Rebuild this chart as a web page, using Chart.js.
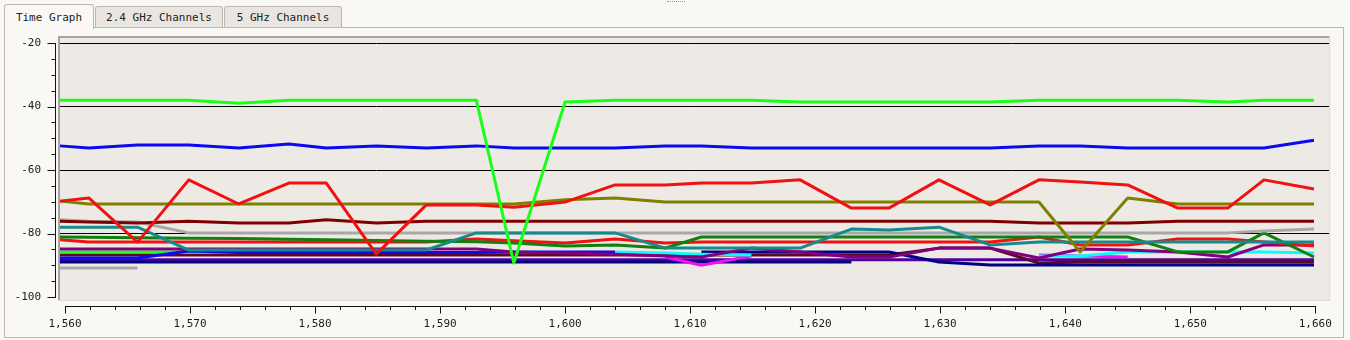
<!DOCTYPE html>
<html>
<head>
<meta charset="utf-8">
<title>Time Graph</title>
<script src="https://cdn.jsdelivr.net/npm/chart.js@4/dist/chart.umd.min.js"></script>
<style>
  html, body { margin: 0; padding: 0; }
  body {
    width: 1350px; height: 340px; position: relative; overflow: hidden;
    background: #faf8f5;
    font-family: "DejaVu Sans Mono", monospace; font-size: 11px; color: #222;
  }
  .panel {
    position: absolute; left: 4px; top: 27px; width: 1338px; height: 309px;
    border: 1px solid #bbb8b3; box-sizing: content-box;
  }
  .tab {
    position: absolute; top: 6px; height: 20px; line-height: 21px;
    border: 1px solid #bbb8b3; border-bottom: none; border-radius: 3px 3px 0 0;
    background: #e9e6e1; text-align: center; box-sizing: content-box;
  }
  .tab.active { top: 4px; height: 24px; line-height: 25px; background: #faf8f5; z-index: 2; }
  .grip { position: absolute; left: 667px; top: 1px; width: 18px; border-top: 1px dotted #999; }
  #chart { position: absolute; left: 0; top: 0; z-index: 3; }
</style>
</head>
<body>
<div class="grip"></div>
<div class="panel"></div>
<div class="tab active" style="left:4px;width:88px;">Time Graph</div>
<div class="tab" style="left:95px;width:126px;">2.4 GHz Channels</div>
<div class="tab" style="left:224px;width:116px;">5 GHz Channels</div>
<canvas id="chart" width="1350" height="340"></canvas>
<script>
"use strict";

// sample times (x values)
const times = [1559.6, 1561.9, 1565.8, 1569.9, 1573.9, 1577.9, 1580.9, 1584.9, 1588.9, 1592.9,
  1595.9, 1600.0, 1604.0, 1608.0, 1610.9, 1614.9, 1618.8, 1622.9, 1625.9, 1629.9,
  1634.0, 1637.9, 1641.2, 1645.0, 1649.0, 1653.0, 1655.9, 1659.9];

const xTicks = [];
for (let v = 1560; v <= 1660; v += 2) xTicks.push(v);
const yTicks = [];
for (let v = -100; v <= -20; v += 5) yTicks.push(v);

const limeVals = [-38, -38, -38, -38, -39, -38, -38, -38, -38, -38, -89.3, -38.6, -38, -38,
  -38, -38, -38.6, -38.6, -38.6, -38.6, -38.6, -38, -38, -38, -38, -38.6, -38, -38];
const blueVals = [-52.4, -53.1, -52.1, -52.1, -53.1, -51.8, -53.1, -52.4, -53.1, -52.4, -53.1, -53.1, -53.1, -52.4,
  -52.4, -53.1, -53.1, -53.1, -53.1, -53.1, -53.1, -52.4, -52.4, -53.1, -53.1, -53.1, -53.1, -50.6];
const redVals = [-69.8, -68.8, -82.7, -63.1, -70.7, -64.1, -64.1, -86.5, -71, -71, -71.7, -70.1, -64.7, -64.7,
  -64.1, -64.1, -63.1, -72, -72, -63.1, -71, -63.1, -63.8, -64.7, -72, -72, -63.1, -66];
const oliveVals = [-69.8, -70.7, -70.7, -70.7, -70.7, -70.7, -70.7, -70.7, -70.7, -70.7, -70.7, -69.4, -68.8, -70.1,
  -70.1, -70.1, -70.1, -70.1, -70.1, -70.1, -70.1, -70.1, -85.8, -68.8, -70.7, -70.7, -70.7, -70.7];
const maroonVals = [-76.1, -76.4, -76.7, -76.1, -76.7, -76.7, -75.7, -76.7, -76.1, -76.1, -76.1, -76.1, -76.1, -76.1,
  -76.1, -76.1, -76.1, -76.1, -76.1, -76.1, -76.1, -76.7, -76.7, -76.7, -76.1, -76.1, -76.1, -76.1];
const grayVals = [-75.7, -76.1, -76.4, -79.8, -79.8, -79.8, -79.8, -79.8, -79.8, -79.8, -79.8, -79.8, -79.8, -79.8,
  -79.8, -79.8, -79.8, -79.8, -79.8, -79.8, -79.8, -79.8, -79.8, -79.8, -79.8, -79.8, -79.2, -78.6];
const grayShortVals = [-90.9, -90.9, -90.9, null, null, null, null, null, null, null, null, null, null, null,
  null, null, null, null, null, null, null, null, null, null, null, null, null, null];
const tealVals = [-78, -78, -78, -85.2, -85.2, -85.2, -85.2, -85.2, -85.2, -79.8, -79.8, -79.8, -79.8, -84.6,
  -84.6, -84.6, -84.6, -78.6, -78.9, -78, -83.6, -82.7, -82.7, -82.7, -82.7, -82.7, -82.7, -82.7];
const darkGreenVals = [-81.1, -81.2, -81.3, -81.5, -81.6, -81.8, -82, -82.2, -82.4, -82.6, -83, -83.9, -83.6, -84.6,
  -81.1, -81.1, -81.1, -81.1, -81.1, -81.1, -81.1, -81.1, -81.1, -81.1, -85.8, -85.8, -79.8, -87.4];
const red2Vals = [-82, -82.7, -82.7, -82.7, -82.7, -82.7, -82.7, -82.7, -82.7, -81.7, -82.3, -83, -81.7, -83,
  -82.7, -82.7, -82.7, -82.7, -82.7, -82.7, -82.7, -81.1, -83.6, -83.6, -81.7, -81.7, -82.7, -83.9];
const purpleVals = [-84.9, -84.9, -84.9, -84.9, -84.9, -84.9, -84.9, -84.9, -84.9, -84.9, -85.8, -86.1, -86.5, -87.1,
  -87.4, -84.6, -85.8, -87.4, -87.4, -84.6, -84.6, -87.7, -84.9, -85.2, -85.8, -87.4, -83.6, -83.6];
const lime2Vals = [-85.8, -85.8, -85.8, -85.8, -85.8, -85.8, -85.8, null, null, null, null, null, null, null,
  null, null, null, null, null, null, null, null, null, null, null, null, null, null];
const darkMaroonVals = [-86.8, -86.8, -86.8, -86.8, -86.8, -86.8, -86.8, -86.8, -86.8, -86.8, -86.8, -86.8, -86.8, -86.8,
  -86.8, -86.8, -86.8, -86.8, -86.8, -84.6, -84.6, -89.3, -89, -89, -89, -89, -89, -89];
const blue2Vals = [-87.7, -87.7, -87.7, -85.5, -86, -86, -86, -86, -86, -86, -85.8, -85.8, -85.8, null,
  null, null, null, null, null, null, null, null, null, null, null, null, null, null];
const cyanVals = [null, null, null, null, null, null, null, null, null, null, null, null, -85.8, -86.1,
  -86.5, -86.8, null, null, null, null, null, -87.1, -87.1, -85.8, -85.8, -85.8, -85.8, -86.1];
const magentaVals = [null, null, null, null, null, null, null, null, null, null, null, null, null, -87.4,
  -90, -87.1, null, null, null, null, null, -86.8, -87.1, -87.4, null, null, null, null];
const navyVals = [-89, -89, -89, -89, -89, -89, -89, -89, -89, -89, -89, -89, -89, -89,
  -89, -89, -89, -89, null, null, null, null, null, null, null, null, null, null];
const navy2Vals = [null, null, null, null, null, null, null, null, null, null, null, null, null, null,
  -85.8, -85.8, -85.8, -85.8, -85.8, -89, -89.9, -89.9, -89.9, -89.9, -89.9, -89.9, -89.9, -89.9];
const indigoVals = [-88.3, -88.3, -88.3, -88.3, -88.3, -88.3, -88.3, -88.3, -88.3, -88.3, -88.3, -88.3, -88.3, -88.3,
  -88.3, -88.3, -88.3, -88.3, -88.3, -88.3, -88.3, -88.3, -88.3, -88.3, -88.3, -88.3, -88.3, -88.3];

const X_MIN = 1559.52, X_MAX = 1661.12;
const Y_MIN = -100.94, Y_MAX = -18.11;
const FONT = { family: "'DejaVu Sans Mono', monospace", size: 11 };

function series(label, vals, color) {
  return {
    label: label,
    data: times.map((t, i) => ({ x: t, y: vals[i] == null ? null : vals[i] })),
    borderColor: color,
    backgroundColor: color,
    borderWidth: 3,
    pointRadius: 0,
    fill: false,
    tension: 0,
    spanGaps: false,
    borderJoinStyle: "round",
  };
}

function thousands(v) {
  return String(v).replace(/\B(?=(\d{3})+(?!\d))/g, ",");
}

// plot background, frame and detached axes
const framePlugin = {
  id: "frame",
  beforeDraw(chart) {
    const a = chart.chartArea;
    const ctx = chart.ctx;
    ctx.save();
    ctx.fillStyle = "#edeae5";
    ctx.fillRect(a.left, a.top, a.right - a.left, a.bottom - a.top);
    ctx.restore();
  },
  afterDraw(chart) {
    const a = chart.chartArea;
    const ctx = chart.ctx;
    const xs = chart.scales.x;
    const ys = chart.scales.y;
    ctx.save();
    ctx.fillStyle = "#a6a3a0";
    ctx.fillRect(a.left - 1, a.top - 1, 2, a.bottom - a.top + 1);
    ctx.fillRect(a.left - 1, a.top - 1, a.right - a.left + 1, 2);
    ctx.fillStyle = "#dcd9d4";
    ctx.fillRect(a.right, a.top - 1, 1, a.bottom - a.top + 2);
    ctx.fillRect(a.left - 1, a.bottom, a.right - a.left + 2, 1);

    ctx.strokeStyle = "#111";
    ctx.lineWidth = 1;
    ctx.beginPath();
    // x axis
    const ax = a.bottom + 6.5;
    ctx.moveTo(Math.round(xs.getPixelForValue(1560)), ax);
    ctx.lineTo(Math.round(xs.getPixelForValue(1660)) + 1, ax);
    xTicks.forEach((v) => {
      const px = Math.round(xs.getPixelForValue(v)) + 0.5;
      ctx.moveTo(px, ax);
      ctx.lineTo(px, ax + (v % 10 === 0 ? 7 : 3.5));
    });
    // y axis
    const ay = a.left - 3.5;
    ctx.moveTo(ay, Math.round(ys.getPixelForValue(-20)));
    ctx.lineTo(ay, Math.round(ys.getPixelForValue(-100)) + 1);
    yTicks.forEach((v) => {
      const py = Math.round(ys.getPixelForValue(v)) + 0.5;
      ctx.moveTo(ay, py);
      ctx.lineTo(ay - (v % 20 === 0 ? 8 : 4), py);
    });
    ctx.stroke();
    ctx.restore();
  },
};

new Chart(document.getElementById("chart").getContext("2d"), {
  type: "line",
  data: {
    datasets: [
      series("Lime", limeVals, "#1aff1a"),
      series("Blue", blueVals, "#0a0af0"),
      series("Red", redVals, "#f21010"),
      series("Olive", oliveVals, "#808000"),
      series("Maroon", maroonVals, "#800000"),
      series("Teal", tealVals, "#178b8b"),
      series("Gray", grayVals, "#a8a8a8"),
      series("Gray 2", grayShortVals, "#a8a8a8"),
      series("Green", darkGreenVals, "#108010"),
      series("Red 2", red2Vals, "#f21010"),
      series("Purple", purpleVals, "#800080"),
      series("Cyan", cyanVals, "#10f8f8"),
      series("Magenta", magentaVals, "#f010f0"),
      series("Navy 2", navy2Vals, "#000088"),
      series("Blue 2", blue2Vals, "#0a0af0"),
      series("Lime 2", lime2Vals, "#1aff1a"),
      series("Dark maroon", darkMaroonVals, "#5a0a28"),
      series("Navy", navyVals, "#000080"),
      series("Indigo", indigoVals, "#5000a0"),
    ],
  },
  options: {
    responsive: false,
    animation: false,
    events: [],
    layout: { padding: { left: 0, top: 37, right: 18, bottom: 0 } },
    plugins: { legend: { display: false }, tooltip: { enabled: false } },
    scales: {
      x: {
        type: "linear",
        min: X_MIN,
        max: X_MAX,
        afterBuildTicks: (axis) => { axis.ticks = xTicks.map((v) => ({ value: v })); },
        afterFit: (axis) => { axis.height = 40; },
        grid: { display: false, drawTicks: false },
        border: { display: false },
        ticks: {
          autoSkip: false,
          maxRotation: 0,
          padding: 18,
          color: "#1a1a1a",
          font: FONT,
          callback: (v) => (v % 10 === 0 ? thousands(v) : ""),
        },
      },
      y: {
        type: "linear",
        min: Y_MIN,
        max: Y_MAX,
        afterBuildTicks: (axis) => { axis.ticks = yTicks.map((v) => ({ value: v })); },
        afterFit: (axis) => { axis.width = 59; },
        grid: {
          drawTicks: false,
          lineWidth: 1,
          color: (c) => (c.tick && c.tick.value % 20 === 0 && c.tick.value > -100 ? "#000" : "rgba(0,0,0,0)"),
        },
        border: { display: false },
        ticks: {
          padding: 18,
          color: "#1a1a1a",
          font: FONT,
          callback: (v) => (v % 20 === 0 ? String(v) : ""),
        },
      },
    },
  },
  plugins: [framePlugin],
});
</script>
</body>
</html>
